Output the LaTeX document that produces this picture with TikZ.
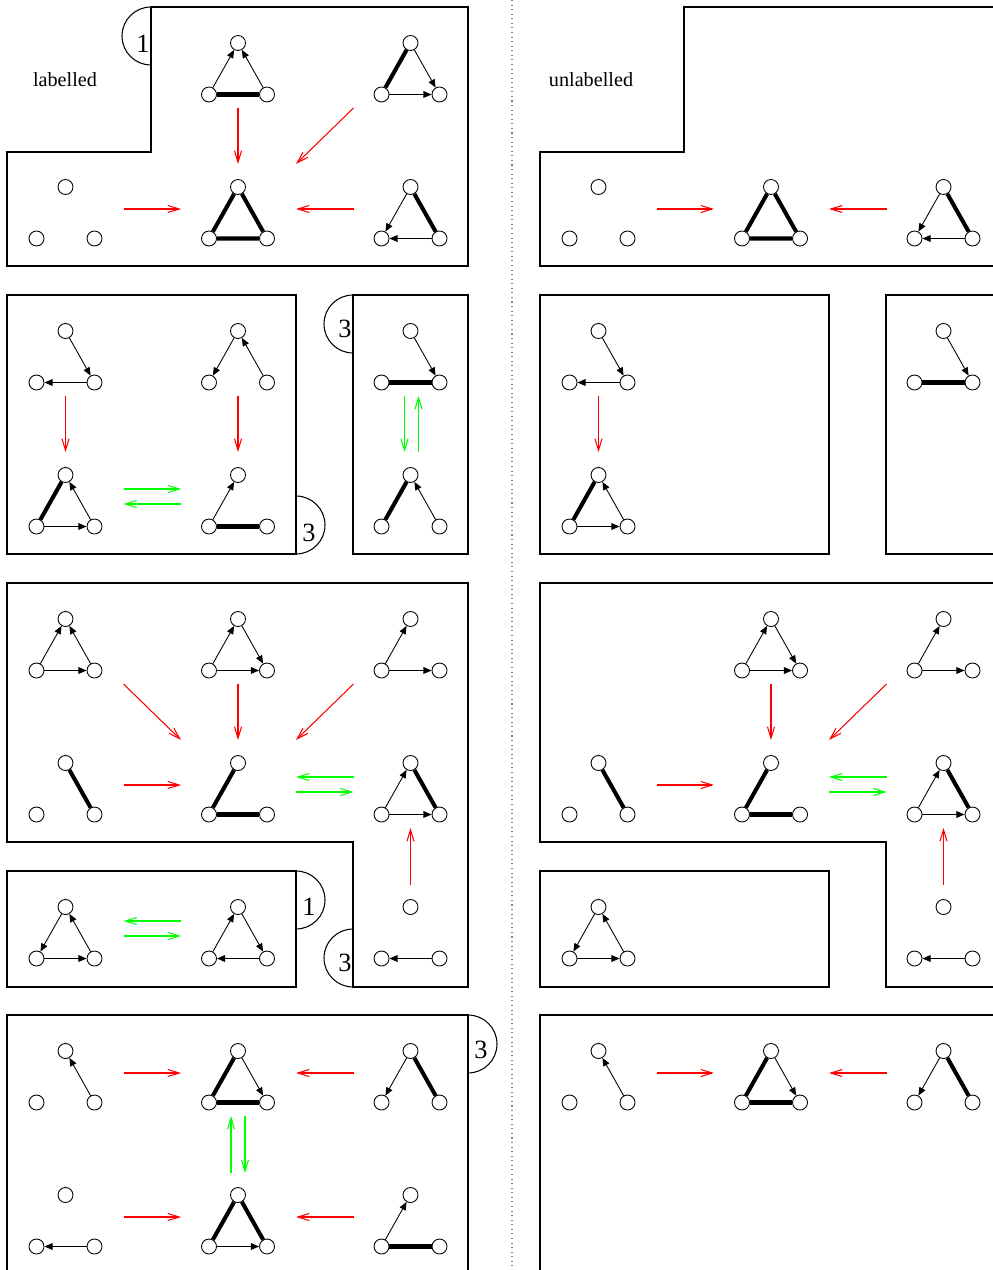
\documentclass[tikz,border=0pt]{standalone}
\usepackage{fontspec}
\setmainfont{Liberation Serif}
\usetikzlibrary{arrows.meta}

% three vertices of one small graph: name, x of top vertex, y of top vertex
\newcommand{\trio}[3]{%
    \node [vtx] (#1t) at (#2,#3) {};
    \node [vtx] (#1l) at (#2-29,#3+51.5) {};
    \node [vtx] (#1r) at (#2+29,#3+51.5) {};
}

\begin{document}
\begin{tikzpicture}[
        x=0.02cm,
        y=-0.02cm,
        vtx/.style={circle,draw,fill=white,minimum size=0.3cm,inner sep=0pt,line width=0.5pt},
        pointed/.style={line width=0.5pt,-{Triangle[length=4.6pt,width=3.8pt]}},
        heavy/.style={line width=2.3pt},
        redarr/.style={red,line width=0.6pt,-{Straight Barb[length=6.5pt,width=4pt]}},
        grnarr/.style={green,line width=0.6pt,-{Straight Barb[length=6.5pt,width=4pt]}},
        boxline/.style={line width=0.6pt},
        numtag/.style={inner sep=0pt,font=\fontsize{15}{15}\selectfont},
        heading/.style={inner sep=0pt,font=\fontsize{11.5}{13}\selectfont}
    ]
    \useasboundingbox (0,0) rectangle (993,1270);
    \clip (0,0) rectangle (993,1270);

    \draw [dotted,gray,line width=0.6pt] (512,0) -- (512,1270);

    % labelled side: frames
    \draw [boxline] (7,152) -- (151,152) -- (151,7) -- (468,7) -- (468,266) -- (7,266) -- cycle;
    \draw [boxline] (151,7) arc (270:90:29);
    \node [numtag] (one-a) at (143,44) {1};
    \node [heading] (lab) at (65,80) {labelled};

    \draw [boxline] (7,295) rectangle (296,554);
    \draw [boxline] (296,496) arc (-90:90:29);
    \node [numtag] (three-a) at (309,533) {3};

    \draw [boxline] (353,295) rectangle (468,554);
    \draw [boxline] (353,295) arc (270:90:29);
    \node [numtag] (three-b) at (345,329) {3};

    \draw [boxline] (7,583) -- (468,583) -- (468,987) -- (353,987) -- (353,842) -- (7,842) -- cycle;
    \draw [boxline] (353,929) arc (270:90:29);
    \node [numtag] (three-c) at (345,963) {3};

    \draw [boxline] (7,871) rectangle (296,987);
    \draw [boxline] (296,871) arc (-90:90:29);
    \node [numtag] (one-b) at (309,907) {1};

    \draw [boxline] (7,1290) -- (7,1015) -- (468,1015) -- (468,1290);
    \draw [boxline] (468,1015) arc (-90:90:29);
    \node [numtag] (three-d) at (481,1050) {3};

    % labelled side: graphs
    \trio{l01}{238}{43}
    \trio{l02}{410.5}{43}
    \trio{l10}{65.5}{187}
    \trio{l11}{238}{187}
    \trio{l12}{410.5}{187}
    \trio{l20}{65.5}{331}
    \trio{l21}{238}{331}
    \trio{l22}{410.5}{331}
    \trio{l30}{65.5}{475}
    \trio{l31}{238}{475}
    \trio{l32}{410.5}{475}
    \trio{l40}{65.5}{619}
    \trio{l41}{238}{619}
    \trio{l42}{410.5}{619}
    \trio{l50}{65.5}{763}
    \trio{l51}{238}{763}
    \trio{l52}{410.5}{763}
    \trio{l60}{65.5}{907}
    \trio{l61}{238}{907}
    \trio{l62}{410.5}{907}
    \trio{l70}{65.5}{1051}
    \trio{l71}{238}{1051}
    \trio{l72}{410.5}{1051}
    \trio{l80}{65.5}{1195}
    \trio{l81}{238}{1195}
    \trio{l82}{410.5}{1195}

    \draw [pointed] (l01l) -- (l01t);
    \draw [pointed] (l01r) -- (l01t);
    \draw [heavy] (l01l) -- (l01r);
    \draw [heavy] (l02t) -- (l02l);
    \draw [pointed] (l02t) -- (l02r);
    \draw [pointed] (l02l) -- (l02r);

    \draw [heavy] (l11t) -- (l11l) -- (l11r) -- (l11t);
    \draw [pointed] (l12t) -- (l12l);
    \draw [heavy] (l12t) -- (l12r);
    \draw [pointed] (l12r) -- (l12l);

    \draw [pointed] (l20t) -- (l20r);
    \draw [pointed] (l20r) -- (l20l);
    \draw [pointed] (l21t) -- (l21l);
    \draw [pointed] (l21r) -- (l21t);
    \draw [pointed] (l22t) -- (l22r);
    \draw [heavy] (l22l) -- (l22r);

    \draw [heavy] (l30t) -- (l30l);
    \draw [pointed] (l30r) -- (l30t);
    \draw [pointed] (l30l) -- (l30r);
    \draw [pointed] (l31l) -- (l31t);
    \draw [heavy] (l31l) -- (l31r);
    \draw [heavy] (l32t) -- (l32l);
    \draw [pointed] (l32r) -- (l32t);

    \draw [pointed] (l40l) -- (l40t);
    \draw [pointed] (l40r) -- (l40t);
    \draw [pointed] (l40l) -- (l40r);
    \draw [pointed] (l41l) -- (l41t);
    \draw [pointed] (l41t) -- (l41r);
    \draw [pointed] (l41l) -- (l41r);
    \draw [pointed] (l42l) -- (l42t);
    \draw [pointed] (l42l) -- (l42r);

    \draw [heavy] (l50t) -- (l50r);
    \draw [heavy] (l51t) -- (l51l);
    \draw [heavy] (l51l) -- (l51r);
    \draw [pointed] (l52l) -- (l52t);
    \draw [heavy] (l52t) -- (l52r);
    \draw [pointed] (l52l) -- (l52r);

    \draw [pointed] (l60t) -- (l60l);
    \draw [pointed] (l60r) -- (l60t);
    \draw [pointed] (l60l) -- (l60r);
    \draw [pointed] (l61l) -- (l61t);
    \draw [pointed] (l61t) -- (l61r);
    \draw [pointed] (l61r) -- (l61l);
    \draw [pointed] (l62r) -- (l62l);

    \draw [pointed] (l70r) -- (l70t);
    \draw [heavy] (l71t) -- (l71l);
    \draw [heavy] (l71l) -- (l71r);
    \draw [pointed] (l71t) -- (l71r);
    \draw [pointed] (l72t) -- (l72l);
    \draw [heavy] (l72t) -- (l72r);

    \draw [pointed] (l80r) -- (l80l);
    \draw [heavy] (l81t) -- (l81l);
    \draw [heavy] (l81t) -- (l81r);
    \draw [pointed] (l81l) -- (l81r);
    \draw [pointed] (l82l) -- (l82t);
    \draw [heavy] (l82l) -- (l82r);

    % labelled side: moves
    \draw [redarr] ([shift={(58,22)}]l10t.center) -- ([shift={(-57,22)}]l11t.center);
    \draw [redarr] ([shift={(-57,22)}]l12t.center) -- ([shift={(58,22)}]l11t.center);
    \draw [redarr] ([shift={(0,65)}]l01t.center) -- ([shift={(0,-23)}]l11t.center);
    \draw [redarr] ([shift={(-57,65)}]l02t.center) -- ([shift={(58,-23)}]l11t.center);

    \draw [redarr] ([shift={(0,65)}]l20t.center) -- ([shift={(0,-23)}]l30t.center);
    \draw [redarr] ([shift={(0,65)}]l21t.center) -- ([shift={(0,-23)}]l31t.center);
    \draw [grnarr] ([shift={(58,14)}]l30t.center) -- ([shift={(-57,14)}]l31t.center);
    \draw [grnarr] ([shift={(-57,29)}]l31t.center) -- ([shift={(58,29)}]l30t.center);
    \draw [grnarr] ([shift={(-6,65)}]l22t.center) -- ([shift={(-6,-23)}]l32t.center);
    \draw [grnarr] ([shift={(8,-23)}]l32t.center) -- ([shift={(8,65)}]l22t.center);

    \draw [redarr] ([shift={(58,65)}]l40t.center) -- ([shift={(-57,-23)}]l51t.center);
    \draw [redarr] ([shift={(0,65)}]l41t.center) -- ([shift={(0,-23)}]l51t.center);
    \draw [redarr] ([shift={(-57,65)}]l42t.center) -- ([shift={(58,-23)}]l51t.center);
    \draw [redarr] ([shift={(58,22)}]l50t.center) -- ([shift={(-57,22)}]l51t.center);
    \draw [grnarr] ([shift={(-57,14)}]l52t.center) -- ([shift={(58,14)}]l51t.center);
    \draw [grnarr] ([shift={(58,29)}]l51t.center) -- ([shift={(-57,29)}]l52t.center);
    \draw [redarr] ([shift={(0,-22)}]l62t.center) -- ([shift={(0,65)}]l52t.center);

    \draw [grnarr] ([shift={(-57,14)}]l61t.center) -- ([shift={(58,14)}]l60t.center);
    \draw [grnarr] ([shift={(58,29)}]l60t.center) -- ([shift={(-57,29)}]l61t.center);

    \draw [redarr] ([shift={(58,22)}]l70t.center) -- ([shift={(-57,22)}]l71t.center);
    \draw [redarr] ([shift={(-57,22)}]l72t.center) -- ([shift={(58,22)}]l71t.center);
    \draw [redarr] ([shift={(58,22)}]l80t.center) -- ([shift={(-57,22)}]l81t.center);
    \draw [redarr] ([shift={(-57,22)}]l82t.center) -- ([shift={(58,22)}]l81t.center);
    \draw [grnarr] ([shift={(-7,-22)}]l81t.center) -- ([shift={(-7,65)}]l71t.center);
    \draw [grnarr] ([shift={(7,65)}]l71t.center) -- ([shift={(7,-22)}]l81t.center);

    % unlabelled side
    \begin{scope}[shift={(533,0)}]
        \draw [boxline] (7,152) -- (151,152) -- (151,7) -- (468,7) -- (468,266) -- (7,266) -- cycle;
        \node [heading] (unlab) at (58,80) {unlabelled};
        \draw [boxline] (7,295) rectangle (296,554);
        \draw [boxline] (353,295) rectangle (468,554);
        \draw [boxline] (7,583) -- (468,583) -- (468,987) -- (353,987) -- (353,842) -- (7,842) -- cycle;
        \draw [boxline] (7,871) rectangle (296,987);
        \draw [boxline] (7,1290) -- (7,1015) -- (468,1015) -- (468,1290);

        \trio{u10}{65.5}{187}
        \trio{u11}{238}{187}
        \trio{u12}{410.5}{187}
        \trio{u20}{65.5}{331}
        \trio{u22}{410.5}{331}
        \trio{u30}{65.5}{475}
        \trio{u41}{238}{619}
        \trio{u42}{410.5}{619}
        \trio{u50}{65.5}{763}
        \trio{u51}{238}{763}
        \trio{u52}{410.5}{763}
        \trio{u60}{65.5}{907}
        \trio{u62}{410.5}{907}
        \trio{u70}{65.5}{1051}
        \trio{u71}{238}{1051}
        \trio{u72}{410.5}{1051}

        \draw [heavy] (u11t) -- (u11l) -- (u11r) -- (u11t);
        \draw [pointed] (u12t) -- (u12l);
        \draw [heavy] (u12t) -- (u12r);
        \draw [pointed] (u12r) -- (u12l);

        \draw [pointed] (u20t) -- (u20r);
        \draw [pointed] (u20r) -- (u20l);
        \draw [pointed] (u22t) -- (u22r);
        \draw [heavy] (u22l) -- (u22r);
        \draw [heavy] (u30t) -- (u30l);
        \draw [pointed] (u30r) -- (u30t);
        \draw [pointed] (u30l) -- (u30r);

        \draw [pointed] (u41l) -- (u41t);
        \draw [pointed] (u41t) -- (u41r);
        \draw [pointed] (u41l) -- (u41r);
        \draw [pointed] (u42l) -- (u42t);
        \draw [pointed] (u42l) -- (u42r);
        \draw [heavy] (u50t) -- (u50r);
        \draw [heavy] (u51t) -- (u51l);
        \draw [heavy] (u51l) -- (u51r);
        \draw [pointed] (u52l) -- (u52t);
        \draw [heavy] (u52t) -- (u52r);
        \draw [pointed] (u52l) -- (u52r);

        \draw [pointed] (u60t) -- (u60l);
        \draw [pointed] (u60r) -- (u60t);
        \draw [pointed] (u60l) -- (u60r);
        \draw [pointed] (u62r) -- (u62l);

        \draw [pointed] (u70r) -- (u70t);
        \draw [heavy] (u71t) -- (u71l);
        \draw [heavy] (u71l) -- (u71r);
        \draw [pointed] (u71t) -- (u71r);
        \draw [pointed] (u72t) -- (u72l);
        \draw [heavy] (u72t) -- (u72r);

        \draw [redarr] ([shift={(58,22)}]u10t.center) -- ([shift={(-57,22)}]u11t.center);
        \draw [redarr] ([shift={(-57,22)}]u12t.center) -- ([shift={(58,22)}]u11t.center);
        \draw [redarr] ([shift={(0,65)}]u20t.center) -- ([shift={(0,-23)}]u30t.center);
        \draw [redarr] ([shift={(0,65)}]u41t.center) -- ([shift={(0,-23)}]u51t.center);
        \draw [redarr] ([shift={(-57,65)}]u42t.center) -- ([shift={(58,-23)}]u51t.center);
        \draw [redarr] ([shift={(58,22)}]u50t.center) -- ([shift={(-57,22)}]u51t.center);
        \draw [grnarr] ([shift={(-57,14)}]u52t.center) -- ([shift={(58,14)}]u51t.center);
        \draw [grnarr] ([shift={(58,29)}]u51t.center) -- ([shift={(-57,29)}]u52t.center);
        \draw [redarr] ([shift={(0,-22)}]u62t.center) -- ([shift={(0,65)}]u52t.center);
        \draw [redarr] ([shift={(58,22)}]u70t.center) -- ([shift={(-57,22)}]u71t.center);
        \draw [redarr] ([shift={(-57,22)}]u72t.center) -- ([shift={(58,22)}]u71t.center);
    \end{scope}
\end{tikzpicture}
\end{document}
